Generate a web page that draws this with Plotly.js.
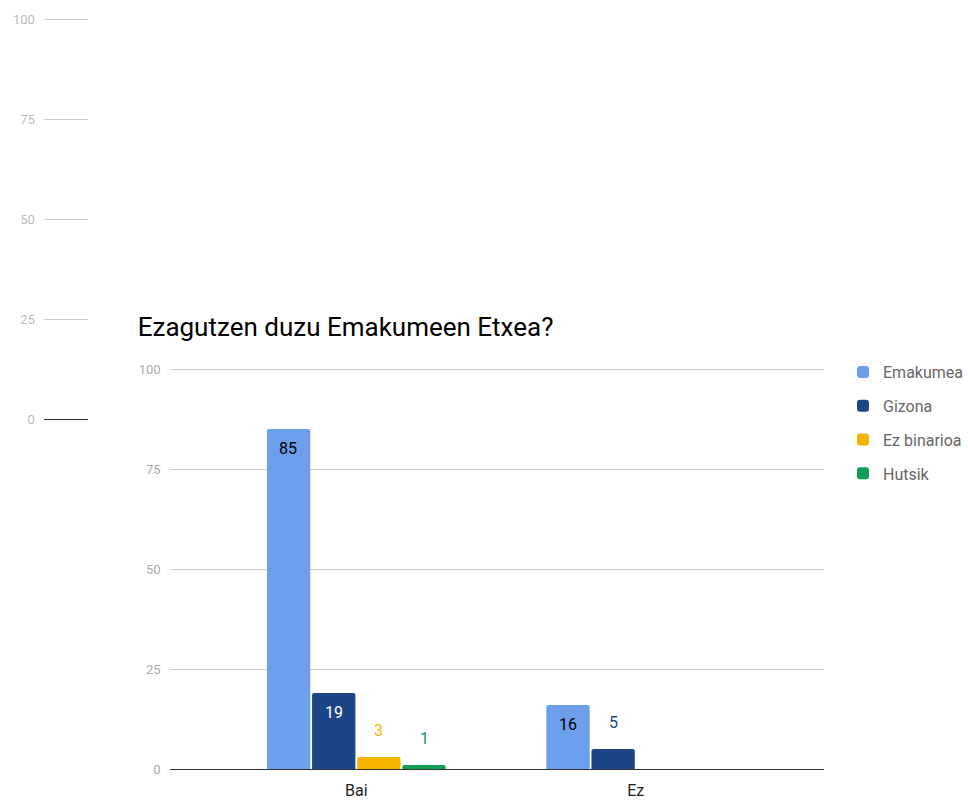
<!DOCTYPE html>
<html>
<head>
<meta charset="utf-8">
<script src="https://cdn.plot.ly/plotly-3.0.1.min.js"></script>
<style>html,body{margin:0;padding:0;background:#fff}#chart{width:968px;height:800px}</style>
</head>
<body>
<div id="chart"></div>
<script>
var categories = ['Bai', 'Ez'];
var seriesNames = ['Emakumea', 'Gizona', 'Ez binarioa', 'Hutsik'];
var emakumea = [85, 16];
var gizona = [19, 5];
var ezBinarioa = [3, 0];
var hutsik = [1, 0];
var yTicks = [0, 25, 50, 75, 100];
var titleText = 'Ezagutzen duzu Emakumeen Etxea?';

var colors = ['#6d9eeb', '#1c4587', '#f4b400', '#0f9d58'];
var insideColors = ['#000000', '#ffffff', '#000000', '#ffffff'];
var allValues = [emakumea, gizona, ezBinarioa, hutsik];

var traces = allValues.map(function (vals, i) {
  return {
    type: 'bar',
    name: seriesNames[i],
    x: categories,
    y: vals,
    marker: { color: colors[i], line: { width: 0 }, cornerradius: 2 },
    legendgroup: 'g' + i,
    hoverinfo: 'skip',
    xaxis: 'x',
    yaxis: 'y'
  };
});

traces.push({
  type: 'scatter', x: [], y: [], xaxis: 'x2', yaxis: 'y2',
  showlegend: false, hoverinfo: 'skip'
});

// value labels, placed at each bar's own data coordinates
var slotPx = 45.3;
var annotations = [];
allValues.forEach(function (vals, i) {
  vals.forEach(function (v, j) {
    if (v === 0) return;
    var inside = v >= 15;
    annotations.push({
      xref: 'x', yref: 'y',
      x: categories[j], y: v,
      xshift: (i - 1.5) * slotPx,
      yshift: inside ? -19 : 27,
      text: String(v),
      showarrow: false,
      xanchor: 'center', yanchor: 'middle',
      font: { family: 'Roboto', size: 16, color: inside ? insideColors[i] : colors[i] }
    });
  });
});

var layout = {
  width: 968, height: 800,
  margin: { l: 0, r: 0, t: 0, b: 0, pad: 0 },
  paper_bgcolor: '#ffffff', plot_bgcolor: '#ffffff',
  font: { family: 'Roboto, sans-serif' },
  title: {
    text: titleText,
    x: 138 / 968, xanchor: 'left', xref: 'paper',
    y: 1 - 327 / 800, yanchor: 'middle', yref: 'paper',
    font: { family: 'Roboto', size: 26, color: '#000000' }
  },
  annotations: annotations,
  barmode: 'group',
  bargap: 0.354,
  bargroupgap: 0.04,
  showlegend: true,
  legend: {
    x: 845 / 968, xanchor: 'left',
    y: 1 - 355 / 800, yanchor: 'top',
    font: { family: 'Roboto', size: 16, color: '#666666' },
    traceorder: 'grouped', tracegroupgap: 10,
    itemwidth: 30
  },
  xaxis: {
    domain: [170 / 968, 826 / 968],
    anchor: 'y',
    type: 'category',
    range: [-0.668, 1.675],
    showgrid: false, zeroline: false,
    showline: false,
    ticks: '',
    ticklabelstandoff: 10,
    tickfont: { family: 'Roboto', size: 16, color: '#222222' },
    fixedrange: true
  },
  yaxis: {
    domain: [1 - 769 / 800, 1 - 365 / 800],
    anchor: 'x',
    range: [0, 101],
    tickvals: yTicks,
    ticktext: yTicks.map(String),
    showgrid: true, gridcolor: '#cccccc', gridwidth: 1,
    zeroline: true, zerolinecolor: '#333333', zerolinewidth: 1,
    showline: false, ticks: '',
    ticklabelstandoff: 8,
    tickfont: { family: 'Roboto', size: 13, color: '#aaaaaa' },
    fixedrange: true
  },
  xaxis2: {
    domain: [44 / 968, 88 / 968],
    anchor: 'y2',
    range: [0, 1],
    showgrid: false, zeroline: false, showline: false,
    showticklabels: false, ticks: '',
    fixedrange: true
  },
  yaxis2: {
    domain: [1 - 419 / 800, 1 - 15 / 800],
    anchor: 'x2',
    range: [0, 101],
    tickvals: yTicks,
    ticktext: yTicks.map(String),
    showgrid: true, gridcolor: '#cccccc', gridwidth: 1,
    zeroline: true, zerolinecolor: '#333333', zerolinewidth: 1,
    showline: false, ticks: '',
    ticklabelstandoff: 8,
    tickfont: { family: 'Roboto', size: 13, color: '#bbbbbb' },
    fixedrange: true
  }
};

Plotly.newPlot('chart', traces, layout, { displayModeBar: false, staticPlot: true });
</script>
</body>
</html>
